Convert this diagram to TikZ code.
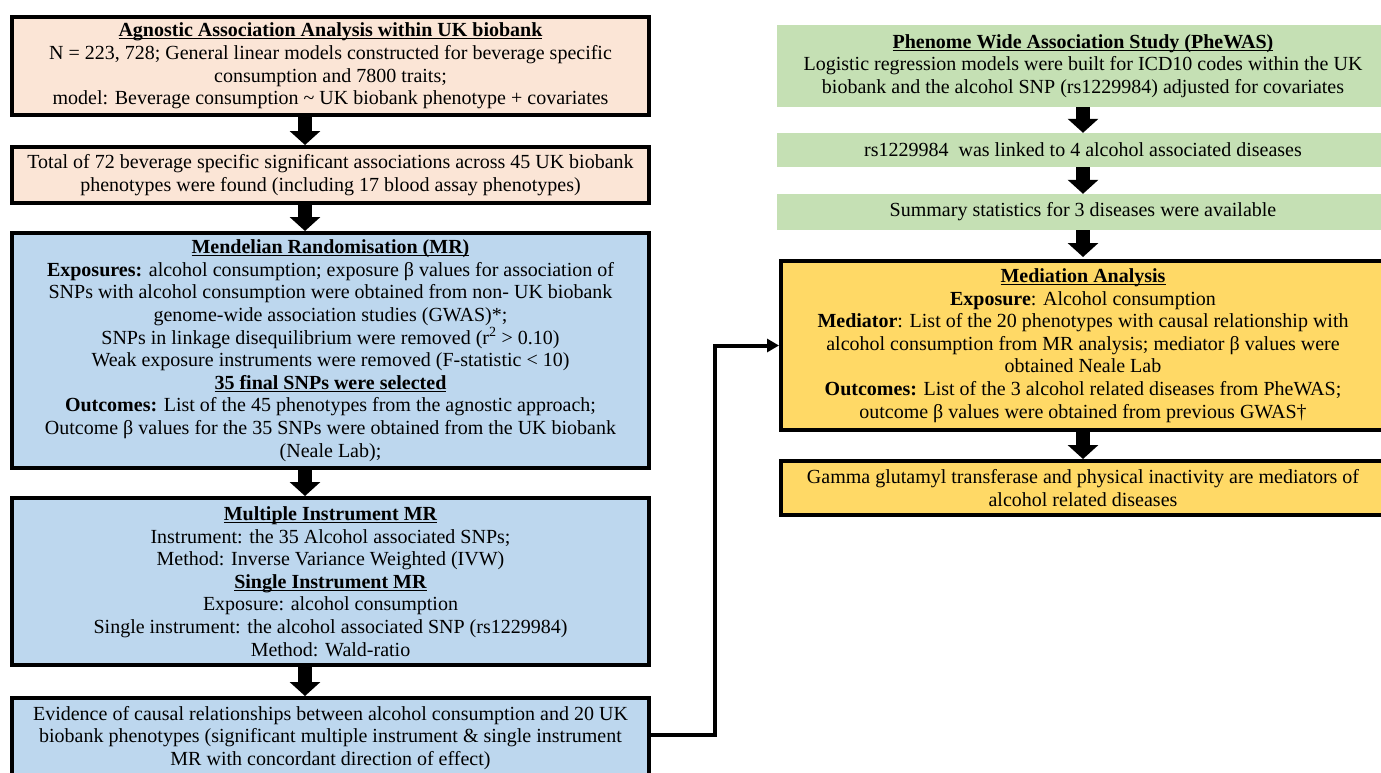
\documentclass[tikz,border=0pt]{standalone}
\usepackage{fontspec}
\setmainfont{Liberation Serif}
\usetikzlibrary{arrows.meta}
\definecolor{peach}{HTML}{FBE5D6}
\definecolor{lblue}{HTML}{BDD7EE}
\definecolor{lgreen}{HTML}{C5E0B4}
\definecolor{lyellow}{HTML}{FFD966}
\newcommand\myul[1]{\leavevmode\setbox0\hbox{#1}\rlap{\copy0}\rule[-2.6pt]{\wd0}{1.1pt}}
\tikzset{
  txt/.style={align=center, inner sep=0pt, font=\fontsize{20}{22.6}\selectfont},
  framed/.style={txt, draw=black, line width=4pt},
  peachbox/.style={framed, fill=peach, minimum width=637pt},
  bluebox/.style={framed, fill=lblue, minimum width=637pt},
  greenbox/.style={txt, fill=lgreen, minimum width=612pt},
  yellowbox/.style={framed, fill=lyellow, minimum width=604pt},
  bigarrow/.style={line width=14pt, -{Triangle[width=30pt,length=14pt]}},
  conn/.style={line width=4pt, -{Triangle[width=13pt,length=12pt]}}
}
\begin{document}
\begin{tikzpicture}[x=1pt,y=-1pt]
\useasboundingbox (0,0) rectangle (1381,772);
\clip (0,0) rectangle (1381,772);
\fill[white] (0,0) rectangle (1381,772);
% left column
\node[peachbox, minimum height=98pt] (b1) at (330.5,66) {\myul{\textbf{Agnostic Association Analysis within UK biobank}}\\
N = 223, 728; General linear models constructed for beverage specific\\
consumption and 7800 traits;\\
model: Beverage consumption \textasciitilde{} UK biobank phenotype + covariates};
\node[peachbox, minimum height=56pt] (b2) at (330.5,175) {Total of 72 beverage specific significant associations across 45 UK biobank\\
phenotypes were found (including 17 blood assay phenotypes)};
\node[bluebox, minimum height=235pt] (b3) at (330.5,350.5) {\myul{\textbf{Mendelian Randomisation (MR)}}\\
\textbf{Exposures:} alcohol consumption; exposure β values for association of\\
SNPs with alcohol consumption were obtained from non- UK biobank\\
genome-wide association studies (GWAS)*;\\
SNPs in linkage disequilibrium were removed (r\textsuperscript{2} > 0.10)\\
Weak exposure instruments were removed (F-statistic < 10)\\
\myul{\textbf{35 final SNPs were selected}}\\
\textbf{Outcomes:} List of the 45 phenotypes from the agnostic approach;\\
Outcome β values for the 35 SNPs were obtained from the UK biobank\\
(Neale Lab);};
\node[bluebox, minimum height=167pt] (b4) at (330.5,581.5) {\myul{\textbf{Multiple Instrument MR}}\\
Instrument: the 35 Alcohol associated SNPs;\\
Method: Inverse Variance Weighted (IVW)\\
\myul{\textbf{Single Instrument MR}}\\
Exposure: alcohol consumption\\
Single instrument: the alcohol associated SNP (rs1229984)\\
Method: Wald-ratio};
\node[bluebox, minimum height=80pt] (b5) at (330.5,738) {Evidence of causal relationships between alcohol consumption and 20 UK\\
biobank phenotypes (significant multiple instrument \& single instrument\\
MR with concordant direction of effect)};
% right column
\node[greenbox, minimum height=82pt] (g1) at (1083,66) {\myul{\textbf{Phenome Wide Association Study (PheWAS)}}\\
Logistic regression models were built for ICD10 codes within the UK\\
biobank and the alcohol SNP (rs1229984) adjusted for covariates};
\node[greenbox, minimum height=34pt] (g2) at (1083,150) {rs1229984\ \ was linked to 4 alcohol associated diseases};
\node[greenbox, minimum height=36pt] (g3) at (1083,212) {Summary statistics for 3 diseases were available};
\node[yellowbox, minimum height=169pt] (med) at (1083,345.5) {\myul{\textbf{Mediation Analysis}}\\
\textbf{Exposure}: Alcohol consumption\\
\textbf{Mediator}: List of the 20 phenotypes with causal relationship with\\
alcohol consumption from MR analysis; mediator β values were\\
obtained Neale Lab\\
\textbf{Outcomes:} List of the 3 alcohol related diseases from PheWAS;\\
outcome β values were obtained from previous GWAS†};
\node[yellowbox, minimum height=54pt] (res) at (1083,488) {Gamma glutamyl transferase and physical inactivity are mediators of\\
alcohol related diseases};
% arrows
\coordinate (lx) at (305,0);
\draw[bigarrow] (b1.south -| lx) -- (b2.north -| lx);
\draw[bigarrow] (b2.south -| lx) -- (b3.north -| lx);
\draw[bigarrow] (b3.south -| lx) -- (b4.north -| lx);
\draw[bigarrow] (b4.south -| lx) -- (b5.north -| lx);
\draw[bigarrow] (g1.south) -- (g2.north);
\draw[bigarrow] (g2.south) -- (g3.north);
\draw[bigarrow] (g3.south) -- ([yshift=2pt]med.north);
\draw[bigarrow] (med.south) -- (res.north);
\coordinate (cx) at (715,0);
\draw[conn] ([yshift=3pt]b5.east) -| (cx |- med.west) -- (med.west);
\end{tikzpicture}
\end{document}
